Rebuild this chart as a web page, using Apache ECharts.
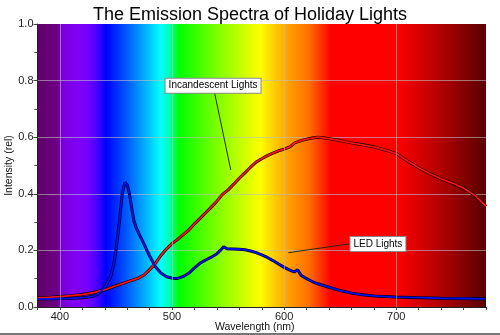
<!DOCTYPE html>
<html>
<head>
<meta charset="utf-8">
<script src="https://cdn.jsdelivr.net/npm/echarts@6/dist/echarts.min.js"></script>
<style>
  html, body { margin: 0; padding: 0; background: #fff; }
  #chart { width: 500px; height: 335px; }
</style>
</head>
<body>
<div id="chart"></div>
<script>
// Incandescent bulb spectrum (wavelength in nm, relative intensity)
const incWavelength = [380, 390, 400, 410, 420, 430, 440, 450, 460, 470,
  475, 480, 485, 490, 495, 500, 505, 510, 515, 520,
  525, 530, 535, 540, 545, 550, 555, 560, 565, 570,
  575, 580, 585, 590, 595, 600, 605, 610, 615, 620,
  625, 630, 635, 640, 650, 660, 670, 680, 690, 700,
  710, 720, 730, 740, 750, 760, 770, 780];
const incIntensity = [0.032, 0.034, 0.037, 0.040, 0.044, 0.051, 0.061, 0.075, 0.089, 0.102,
  0.113, 0.132, 0.153, 0.182, 0.205, 0.224, 0.239, 0.256, 0.272, 0.294,
  0.313, 0.333, 0.353, 0.374, 0.398, 0.414, 0.434, 0.455, 0.474, 0.494,
  0.512, 0.524, 0.535, 0.544, 0.552, 0.558, 0.566, 0.581, 0.588, 0.593,
  0.597, 0.600, 0.598, 0.595, 0.588, 0.580, 0.573, 0.566, 0.555, 0.542,
  0.516, 0.492, 0.471, 0.453, 0.438, 0.420, 0.395, 0.356];

// LED string spectrum
const ledWavelength = [380, 390, 400, 410, 420, 425, 430, 435, 440, 445,
  448, 450, 453, 455.5, 458, 460, 462, 464, 466, 468,
  471, 475, 480, 485, 490, 495, 500, 505, 510, 515,
  520, 525, 530, 535, 540, 543, 546, 549, 555, 560,
  565, 570, 575, 580, 585, 590, 595, 600, 605, 609,
  612, 615, 620, 625, 630, 640, 650, 660, 670, 680,
  690, 700, 720, 740, 760, 780];
const ledIntensity = [0.028, 0.029, 0.030, 0.031, 0.033, 0.035, 0.038, 0.048, 0.070, 0.105,
  0.150, 0.200, 0.300, 0.400, 0.440, 0.432, 0.400, 0.350, 0.305, 0.280,
  0.255, 0.222, 0.180, 0.143, 0.120, 0.107, 0.102, 0.101, 0.108, 0.120,
  0.138, 0.155, 0.166, 0.176, 0.188, 0.200, 0.213, 0.206, 0.205, 0.204,
  0.202, 0.198, 0.192, 0.184, 0.175, 0.164, 0.152, 0.140, 0.130, 0.124,
  0.132, 0.112, 0.100, 0.090, 0.082, 0.070, 0.058, 0.049, 0.043, 0.039,
  0.037, 0.035, 0.033, 0.031, 0.030, 0.029];

// Visible-spectrum backdrop colours by wavelength
const spectrumWavelength = [380, 398, 401, 415, 424, 432, 441, 461, 476, 490, 498, 506, 541, 579, 586, 602, 622, 642, 700, 740, 780];
const spectrumColor = ['#600068', '#6c0086', '#7800d6', '#8000f4', '#7800ff', '#5000ff', '#0000ff', '#0060ff', '#00b0ff', '#00ffff', '#00ffb0', '#00ff00', '#80ff00', '#ffff00', '#ffe000', '#ffa500', '#ff6e00', '#ff0000', '#ff0000', '#b00000', '#580000'];

const xTickLabels = [400, 500, 600, 700];

const X_MIN = 380, X_MAX = 780;
const FONT = 'Arial, "Liberation Sans", sans-serif';

const incData = incWavelength.map((w, i) => [w, incIntensity[i]]);
const ledData = ledWavelength.map((w, i) => [w, ledIntensity[i]]);

const chart = echarts.init(document.getElementById('chart'), null, { renderer: 'canvas' });

const backdrop = new echarts.graphic.LinearGradient(0, 0, 1, 0,
  spectrumWavelength.map((w, i) => ({ offset: (w - X_MIN) / (X_MAX - X_MIN), color: spectrumColor[i] })));

const gridLineStyle = { color: 'rgba(190,190,190,0.6)', width: 1, type: 'solid' };

const boxLabel = (text) => ({
  show: true,
  position: 'inside',
  formatter: text,
  color: '#000',
  fontSize: 10,
  fontFamily: FONT,
  backgroundColor: '#fff',
  borderColor: '#8a8a8a',
  borderWidth: 1,
  padding: [2, 3, 2, 3]
});

const arrowLine = (from, to) => ({
  silent: true,
  animation: false,
  symbol: ['none', 'arrow'],
  symbolSize: [0, 7],
  label: { show: false },
  lineStyle: { color: '#2a2a10', width: 1, type: 'solid' },
  emphasis: { disabled: true },
  data: [[{ coord: from }, { coord: to }]]
});

const option = {
  animation: false,
  title: {
    text: 'The Emission Spectra of Holiday Lights',
    left: 'center',
    top: 1,
    textStyle: { fontSize: 18, fontWeight: 'normal', color: '#000', fontFamily: FONT }
  },
  grid: {
    left: 37.5, right: 14, top: 24, bottom: 28,
    containLabel: false,
    outerBoundsMode: 'none',
    show: true,
    backgroundColor: backdrop,
    borderWidth: 0
  },
  xAxis: {
    type: 'value',
    min: X_MIN, max: X_MAX, interval: 20,
    name: 'Wavelength (nm)',
    nameLocation: 'middle',
    nameGap: 15,
    nameMoveOverlap: false,
    nameTextStyle: { fontSize: 10.5, color: '#111', fontFamily: FONT, padding: [0, 14, 0, 0] },
    axisLine: { show: true, lineStyle: { color: '#222', width: 1 } },
    axisTick: { show: true, length: 3, lineStyle: { color: '#444' } },
    axisLabel: {
      fontSize: 11, color: '#222', fontFamily: FONT, margin: 4,
      formatter: (v) => (xTickLabels.indexOf(v) >= 0 ? String(v) : '')
    },
    splitLine: { show: false }
  },
  yAxis: {
    type: 'value',
    min: 0, max: 1, interval: 0.2,
    name: 'Intensity (rel)',
    nameLocation: 'middle',
    nameGap: 23,
    nameMoveOverlap: false,
    nameTextStyle: { fontSize: 10.5, color: '#111', fontFamily: FONT },
    axisLine: { show: true, lineStyle: { color: '#222', width: 1 } },
    axisTick: { show: true, length: 4, lineStyle: { color: '#444' } },
    minorTick: { show: true, splitNumber: 2, length: 3, lineStyle: { color: '#444' } },
    axisLabel: {
      fontSize: 11, color: '#222', fontFamily: FONT, margin: 4,
      formatter: (v) => v.toFixed(1)
    },
    splitLine: {
      show: true,
      lineStyle: gridLineStyle,
      showMinLine: false,
      showMaxLine: false
    }
  },
  series: [
    {
      name: 'Incandescent outline',
      type: 'line',
      data: incData,
      showSymbol: false,
      silent: true,
      lineStyle: { color: '#000', width: 3 },
      z: 3,
      markLine: {
        silent: true,
        animation: false,
        symbol: ['none', 'none'],
        label: { show: false },
        lineStyle: gridLineStyle,
        emphasis: { disabled: true },
        data: xTickLabels.map((v) => ({ xAxis: v }))
      }
    },
    {
      name: 'Incandescent Lights',
      type: 'line',
      data: incData,
      showSymbol: false,
      silent: true,
      lineStyle: { color: '#ff1010', width: 1.8 },
      z: 4,
      markLine: arrowLine([537.8, 0.759], [552.4, 0.484]),
      markPoint: {
        silent: true,
        symbol: 'rect',
        symbolSize: 1,
        itemStyle: { color: 'rgba(0,0,0,0)' },
        label: boxLabel('Incandescent Lights'),
        data: [{ coord: [536.6, 0.782] }]
      }
    },
    {
      name: 'LED outline',
      type: 'line',
      data: ledData,
      showSymbol: false,
      silent: true,
      lineStyle: { color: '#000', width: 3 },
      z: 3
    },
    {
      name: 'LED Lights',
      type: 'line',
      data: ledData,
      showSymbol: false,
      silent: true,
      lineStyle: { color: '#0010f0', width: 1.8 },
      z: 4,
      markLine: arrowLine([660.2, 0.224], [603.8, 0.192]),
      markPoint: {
        silent: true,
        symbol: 'rect',
        symbolSize: 1,
        itemStyle: { color: 'rgba(0,0,0,0)' },
        label: boxLabel('LED Lights'),
        data: [{ coord: [683.6, 0.223] }]
      }
    }
  ],
  graphic: [
    {
      type: 'rect',
      left: 0, bottom: 0,
      shape: { width: 500, height: 2 },
      style: { fill: '#777' },
      silent: true
    }
  ]
};

chart.setOption(option);
</script>
</body>
</html>
